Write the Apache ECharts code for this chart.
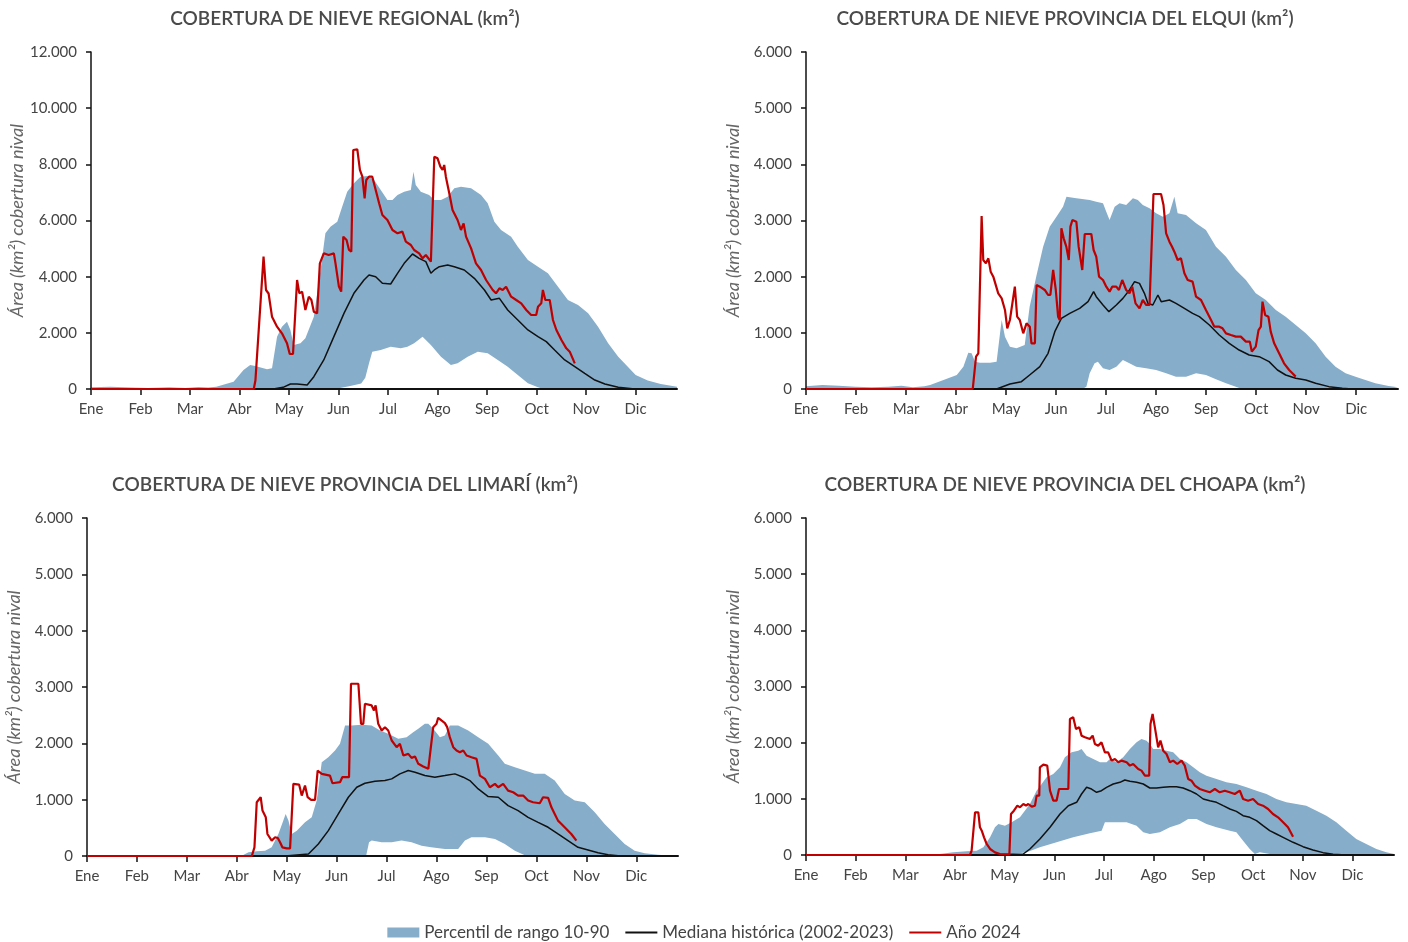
<!DOCTYPE html>
<html><head><meta charset="utf-8">
<script src="https://cdn.jsdelivr.net/npm/echarts@6/dist/echarts.min.js"></script>
<style>html,body{margin:0;padding:0;background:#fff}#c{width:1408px;height:942px}</style>
</head><body><div id="c"></div>
<script>
// ---------- tick labels ----------
const monthLabels = ['Ene','Feb','Mar','Abr','May','Jun','Jul','Ago','Sep','Oct','Nov','Dic'];
const titles = [
  'COBERTURA DE NIEVE REGIONAL (km²)',
  'COBERTURA DE NIEVE PROVINCIA DEL ELQUI (km²)',
  'COBERTURA DE NIEVE PROVINCIA DEL LIMARÍ (km²)',
  'COBERTURA DE NIEVE PROVINCIA DEL CHOAPA (km²)'
];
const yAxisName = 'Área (km²) cobertura nival';
const legendNames = ['Percentil de rango 10-90','Mediana histórica (2002-2023)','Año 2024'];

// ---------- data: [day of year, km²] ----------
const regionalP90 = [[0,60],[12,80],[25,50],[35,40],[48,60],[58,40],[66,70],[72,50],[77,83],[87.6,261],[93.7,677],[97.8,855],[100.9,819],[108.1,700],[111.2,736],[114.3,1864],[117.3,2220],[120.4,2398],[122.5,2101],[124.5,1567],[128.7,1626],[131.7,1804],[136.9,2576],[141,4238],[144,5543],[147.1,5781],[151.3,5959],[154.3,6493],[157.4,7027],[161.5,7324],[165.6,7561],[169.8,7585],[173.9,7443],[178,7086],[182.1,6730],[185.2,6730],[188.3,6908],[192.4,7027],[196.5,7086],[198.1,7739],[199.5,7264],[202.6,7027],[207.7,6908],[210.9,6730],[215,6730],[219.1,6849],[223.2,7146],[227.3,7205],[233.5,7146],[239.6,6908],[243.7,6612],[247.8,5959],[251.9,5662],[258.1,5425],[262.2,5069],[268.4,4594],[274.6,4356],[280.7,4119],[286.9,3644],[293,3169],[299.2,2991],[305.4,2694],[311.5,2220],[317.7,1626],[323.9,1151],[334.6,500],[342,300],[350,180],[360,80]];
const regionalP10 = [[0,0],[150,0],[160,120],[166,200],[168.5,400],[170.8,914],[172.8,1329],[178,1389],[184.1,1507],[190.3,1448],[194.4,1507],[198.5,1626],[203.7,1864],[208.8,1567],[215,1151],[221.1,855],[225.2,914],[231.4,1151],[237.6,1329],[243.7,1270],[249.9,1033],[256,795],[262.2,499],[268.4,202],[274.6,59],[278,0],[360,0]];
const regionalMedian = [[0,0],[112,0],[118,60],[122.5,178],[126.6,178],[132.8,142],[136.9,439],[143,1033],[149.2,1864],[155.4,2694],[161.5,3407],[167.7,3881],[170.8,4060],[174.9,4000],[179,3763],[184.1,3739],[188.3,4119],[192.4,4475],[197.5,4807],[201.6,4653],[205.7,4534],[208.8,4119],[210.9,4238],[214,4356],[219.1,4416],[223.2,4356],[229.3,4238],[235.5,3941],[241.7,3525],[245.8,3169],[250.9,3229],[256,2813],[262.2,2457],[268.4,2101],[274.6,1864],[279.7,1686],[284.8,1389],[291,1033],[297.2,795],[303.3,558],[309.5,320],[315.7,178],[323.9,59],[334,0],[360,0]];
const regional2024 = [[0,0],[100,0],[101,300],[106,4712],[107.5,3525],[109.1,3400],[111.2,2576],[114.3,2220],[117.3,1982],[120.4,1626],[122.1,1246],[124.1,1246],[126.6,3881],[128,3407],[129.7,3466],[131.7,2813],[133.8,3288],[135.4,3169],[136.9,2754],[138.9,2695],[140.6,4475],[143,4831],[146,4772],[149.2,4831],[150.2,4475],[152.3,3644],[153.7,3466],[155,5425],[157,5306],[158.5,4950],[159.9,4890],[161.1,8511],[163.6,8535],[165.2,7799],[166.7,7561],[168.1,6790],[169.1,7443],[170.8,7561],[172.8,7561],[174.9,7086],[177,6612],[179,6196],[182.1,6018],[185.2,5662],[188.3,5543],[191.3,5603],[193.4,5247],[196.5,5128],[198.5,4950],[201.6,4831],[203.7,4653],[205.7,4772],[208.8,4534],[209.8,4534],[210.9,8273],[212.9,8214],[214.6,7917],[216,7799],[217,7976],[218,7561],[220.1,6968],[222.1,6374],[225.2,6018],[227.3,5662],[228.9,5899],[230.4,5425],[233.5,5009],[236.5,4475],[239.6,4238],[242.7,3881],[246.8,3525],[248.8,3407],[250.9,3585],[252.9,3525],[255,3644],[258.1,3288],[261.2,3169],[264.3,3051],[267.4,2813],[270.4,2635],[273.5,2635],[274.6,2932],[276.6,3051],[277.6,3525],[279.1,3169],[281.8,3169],[283.8,2457],[285.9,2101],[289,1745],[292,1448],[294.1,1329],[297.2,914]];

const elquiP90 = [[0,50],[10,70],[20,60],[30,40],[40,30],[50,40],[58,60],[65,30],[72,50],[75.5,71],[83.6,160],[91.7,249],[95.7,398],[98.7,647],[100.7,635],[102.8,487],[105.8,469],[111.9,469],[115.9,487],[118,991],[119,1229],[121,932],[124,754],[128,724],[133,783],[136,1466],[140,2000],[144.2,2534],[148.2,2890],[152.3,3068],[156.3,3246],[158.4,3424],[164.4,3395],[172.5,3365],[176.5,3335],[180.6,3306],[182.6,3157],[184.6,3009],[187.7,3246],[190.7,3306],[194.7,3276],[198.8,3395],[201.8,3365],[204.8,3276],[208.9,3217],[212.9,3128],[217,3068],[221,3128],[224,3424],[226,3128],[231.1,3098],[237.2,2950],[243.2,2831],[249.3,2534],[255.4,2356],[261.4,2119],[267.5,1941],[273.5,1703],[279.6,1585],[285.7,1407],[291.7,1288],[297.8,1140],[303.9,991],[309.9,813],[316,576],[322,398],[328.1,279],[334.2,220],[340.2,160],[346.2,101],[354.3,53],[360,30]];
const elquiP10 = [[0,0],[168,0],[170.5,42],[172.5,279],[175.5,457],[177.5,487],[180.6,368],[184.6,338],[188.7,398],[192.7,516],[196.7,457],[200.8,398],[206.8,368],[212.9,338],[219,279],[225,220],[231.1,220],[237.2,279],[243.2,249],[249.3,172],[255.4,101],[261.4,42],[265,0],[360,0]];
const elquiMedian = [[0,0],[115.9,0],[124,89],[131,130],[136,249],[142.2,398],[147.2,635],[151.3,1021],[155.3,1258],[160.4,1347],[166.4,1436],[171.5,1555],[174.9,1733],[176.5,1644],[180.6,1496],[184.2,1377],[188.7,1496],[192.7,1614],[196.7,1763],[199.8,1911],[202.8,1881],[205.8,1703],[207.9,1525],[210.9,1496],[214,1674],[216,1555],[221,1585],[225,1525],[230.1,1436],[235.1,1347],[239.2,1288],[245.3,1140],[251.3,961],[257.4,813],[263.4,694],[269.5,605],[275.6,576],[281.6,487],[286.7,338],[291.7,249],[297.8,190],[303.9,160],[309.9,101],[318,42],[326.1,12],[332,0],[360,0]];
const elqui2024 = [[0,0],[101.4,0],[103.4,575],[104.8,635],[106.8,3080],[107.8,2297],[109.4,2237],[110.9,2326],[112.3,2089],[113.9,2000],[114.9,2030],[116.9,1703],[119,1614],[121,1407],[122.4,1080],[124,1229],[127,1822],[128.4,1288],[130,1229],[132.1,991],[134.1,1169],[136.1,1110],[137.1,813],[139.2,813],[140.2,1852],[142.2,1822],[145.2,1763],[147.2,1674],[148.6,1674],[150.3,2119],[151.9,1763],[153.3,1288],[154.3,1229],[155.3,2861],[156.7,2683],[158.3,2534],[159.8,2297],[160.8,2890],[162,3009],[164.4,2979],[165.8,2534],[168,2119],[169.5,2760],[173.5,2760],[174.9,2475],[176.5,2356],[178.2,2000],[180.6,1941],[182.6,1822],[184.6,1733],[186.2,1822],[188.7,1822],[190.3,1763],[192.3,1941],[194.7,1763],[196.7,1703],[198.4,1822],[200.4,1525],[202.8,1436],[204.8,1585],[206.8,1496],[208.9,1496],[211.3,3472],[215.9,3472],[217.4,3276],[219,2772],[221,2623],[222.6,2534],[224,2445],[226,2297],[228,2326],[230.1,2059],[232.1,1941],[235.1,1911],[237.2,1644],[240.2,1585],[243.2,1407],[246.3,1229],[248.3,1110],[251.3,1110],[253.3,1080],[255.4,991],[258.4,961],[261.4,932],[264.4,932],[267.5,843],[269.9,843],[271.1,665],[273.5,754],[275.2,1050],[276.6,1110],[277.6,1555],[279.2,1318],[281.2,1288],[282.6,1021],[284.7,813],[287.7,635],[290.7,457],[293.8,338],[295.8,279],[297.8,220]];

const limariP90 = [[0,0],[90,0],[94.3,6],[98.4,65],[103.4,83],[108.5,95],[112.5,154],[116.6,391],[119.6,628],[121,747],[122.7,628],[124.7,391],[127.8,450],[132.8,598],[136.9,687],[139.9,984],[143,1665],[147,1754],[151.1,1873],[154.1,1991],[157.2,2317],[161.2,2317],[167.3,2329],[173.4,2317],[178.5,2228],[183.5,2169],[189.6,2080],[194.7,2110],[198.7,2198],[201.8,2258],[205.8,2347],[207.9,2347],[210.9,2258],[215,2110],[218,2139],[221,2317],[226.1,2317],[232.2,2228],[238.3,2110],[244.4,1991],[250.5,1784],[254.5,1636],[260.6,1576],[266.7,1517],[272.8,1458],[278.8,1458],[284.9,1339],[291,1102],[297.1,984],[303.2,954],[309.3,776],[315.3,569],[321.4,391],[327.5,213],[333.6,95],[339.7,47],[347.8,24],[355.9,6],[360,0]];
const limariP10 = [[0,0],[170,0],[171.8,243],[173.4,273],[179.5,243],[185.6,243],[191.6,273],[197.7,243],[203.8,184],[209.6,154],[218,124],[226.1,124],[230.2,273],[234.2,332],[242.4,332],[248.5,302],[254.5,213],[260.6,95],[266.7,12],[268,0],[360,0]];
const limariMedian = [[0,0],[120.7,0],[134.9,36],[140.9,213],[147,450],[153.1,747],[159.2,1043],[164.3,1221],[169.3,1292],[175.4,1327],[181.5,1339],[185.6,1369],[190.6,1458],[195.7,1517],[199.8,1487],[205.8,1428],[211.9,1399],[218,1428],[224.1,1458],[229.2,1399],[233.2,1339],[238.3,1191],[244.4,1055],[250.5,1043],[256.5,895],[262.6,806],[268.7,687],[274.8,598],[280.9,510],[286.9,391],[293,273],[299.1,154],[305.2,107],[311.3,59],[317.4,24],[323.5,6],[330,0],[360,0]];
const limari2024 = [[0,0],[100.4,0],[102,154],[103.4,954],[104.4,984],[105.8,1043],[106.9,806],[108.1,836],[108.9,687],[109.9,391],[110.9,421],[112.5,273],[114.6,332],[116.2,320],[117.6,243],[119,154],[121.7,136],[123.7,136],[125.7,1280],[129.2,1268],[130.8,1073],[132.8,1250],[134.4,1043],[136.5,996],[138.9,996],[140.5,1517],[143,1458],[148,1428],[149.5,1292],[154.1,1310],[155.5,1399],[159.6,1399],[160.8,3058],[165.3,3058],[166.9,2347],[168.3,2347],[169.3,2702],[173.4,2673],[174.8,2584],[175.8,2673],[177.4,2347],[179.5,2228],[181.5,2287],[183.5,2228],[185.6,2050],[188.6,1932],[190.6,1991],[192.7,1784],[195.7,1813],[197.7,1742],[199.8,1766],[201.8,1636],[204.8,1588],[207.9,1547],[209,1547],[210.9,2287],[212.9,2347],[213.9,2453],[215.9,2406],[218,2358],[219.4,2287],[221,2110],[223.1,1932],[225.1,1873],[227.1,1843],[229.2,1873],[231.2,1784],[234.2,1754],[237.3,1724],[239.3,1428],[242.4,1369],[245.4,1221],[248.5,1280],[250.5,1221],[253.5,1280],[256.5,1161],[259.6,1132],[262.6,1073],[265.7,1073],[268.7,984],[271.7,954],[275.8,936],[277.8,1043],[280.9,1031],[282.9,865],[284.9,747],[286.9,628],[289,569],[292,480],[295,391],[298.1,273]];

const choapaP90 = [[0,0],[60,0],[70,10],[82,18],[90.2,47],[98.4,65],[104.5,77],[108.6,137],[112.7,315],[115.7,493],[117.8,552],[121.8,522],[125.9,582],[131,671],[137.1,908],[141.2,1145],[147.3,1383],[151.4,1442],[155.5,1561],[158.5,1739],[162.6,1828],[166.7,1858],[168.7,1887],[171.8,1769],[175.9,1709],[180,1650],[184,1650],[186.1,1709],[190.2,1650],[194.2,1739],[198.3,1887],[202.4,2006],[205.4,2065],[208.5,2036],[210.5,1976],[212.6,1887],[216.7,1887],[220.7,1858],[224.8,1828],[228.9,1709],[233,1650],[237.1,1561],[241.1,1472],[245.2,1412],[251.3,1353],[257.4,1294],[263.5,1264],[269.7,1205],[275.8,1145],[281.9,1086],[288,997],[294.1,938],[300.2,908],[306.3,878],[312.5,789],[318.6,700],[324.7,582],[330.8,433],[336.9,285],[343,196],[349.2,107],[355.3,47],[360,18]];
const choapaP10 = [[0,0],[120,0],[122.9,6],[135.1,47],[143.2,137],[153.4,226],[163.6,315],[173.8,386],[181,433],[183,582],[184,611],[190.2,582],[196.3,582],[202.4,522],[206.5,404],[210.5,374],[216.7,404],[222.8,493],[228.9,552],[234,641],[239.1,641],[245.2,552],[251.3,493],[259.5,433],[263.5,404],[267.6,255],[271.7,107],[274.8,18],[277.8,47],[284,18],[288,0],[360,0]];
const choapaMedian = [[0,0],[114.7,6],[133,18],[137.1,107],[143.2,285],[149.4,493],[155.5,730],[160.6,878],[165.7,938],[168.7,1086],[171.8,1205],[174.8,1175],[177.9,1116],[180.9,1145],[184,1205],[188.1,1264],[192.2,1294],[195.2,1335],[198.3,1312],[202.4,1294],[206.5,1264],[210.5,1193],[214.6,1193],[218.7,1205],[222.8,1217],[226.8,1217],[230.9,1193],[235,1145],[239.1,1086],[243.2,997],[247.2,967],[251.3,938],[255.4,878],[259.5,819],[263.5,777],[267.6,700],[271.7,671],[275.8,611],[279.8,522],[283.9,433],[288,374],[292.1,315],[298.2,226],[304.3,148],[310.4,89],[316.6,42],[322.7,12],[330.8,0],[360,0]];
const choapa2024 = [[0,0],[100.4,0],[101.4,77],[103.5,760],[105.5,760],[106.5,493],[107.6,433],[109,315],[110.6,196],[112.7,107],[115.7,47],[118.8,18],[124.5,6],[125.5,730],[127.3,789],[129.4,878],[131,849],[133.1,908],[134.7,878],[136.1,908],[138.2,861],[140.2,878],[141.2,1056],[142.8,1056],[143.2,1561],[145.3,1608],[147.7,1591],[149.4,1145],[151.4,967],[153.4,967],[154.9,1175],[157.5,1175],[160.6,1175],[161.6,2421],[163.6,2451],[165.3,2243],[167.3,2273],[168.7,2125],[170.8,2095],[173.8,2065],[175.5,2125],[176.9,1976],[178.9,1947],[180.9,2006],[183,1828],[185,1828],[187.1,1680],[189.1,1709],[191.2,1650],[193.2,1680],[196.3,1650],[198.3,1591],[200.3,1620],[203.4,1531],[205.4,1502],[207.5,1412],[210.1,1412],[210.9,2332],[212.2,2510],[213.6,2273],[215.6,1917],[217,2036],[218.7,1858],[220.7,1798],[222.8,1650],[224.8,1680],[227.3,1620],[229.9,1680],[231.9,1591],[234,1353],[236,1323],[238.1,1234],[241.1,1175],[244.2,1145],[247.2,1116],[250.3,1175],[253.3,1116],[256.4,1145],[259.4,1116],[262.5,1086],[265.6,1145],[267.6,997],[270.7,967],[273.7,997],[276.8,908],[279.8,878],[282.9,819],[285.9,730],[289,671],[292.1,582],[295.1,493],[298.2,326]];

const yMaxes = [12000, 6000, 6000, 6000];
const yIntervals = [2000, 1000, 1000, 1000];

// ---------- layout / style ----------
const FONT = 'Lato, "Noto Sans", sans-serif';
const BAND = '#86adca';
const RED = '#c00000';
const AXIS = '#111';
const DAYS_PER_MONTH = 365 / 12;
const monthStarts = monthLabels.map((_, i) => i * DAYS_PER_MONTH);
const grids = [
  {left: 91, top: 52, width: 586, height: 337},
  {left: 806, top: 52, width: 592, height: 337},
  {left: 87, top: 518, width: 591, height: 338},
  {left: 806, top: 518, width: 588, height: 337}
];
const titlePos = [[345, 19], [1065, 19], [345, 485], [1065, 485]];
const panelData = [
  [regionalP90, regionalP10, regionalMedian, regional2024],
  [elquiP90, elquiP10, elquiMedian, elqui2024],
  [limariP90, limariP10, limariMedian, limari2024],
  [choapaP90, choapaP10, choapaMedian, choapa2024]
];
const fmtThousands = v => String(v).replace(/\B(?=(\d{3})+(?!\d))/g, '.');

const xAxes = [], yAxes = [], series = [];
panelData.forEach((d, i) => {
  xAxes.push({
    gridIndex: i, type: 'value', min: 0, max: 360, z: 3,
    axisLine: {show: true, lineStyle: {color: AXIS, width: 2}},
    axisTick: {show: true, customValues: monthStarts, length: 6, inside: false, lineStyle: {color: AXIS, width: 1.5}},
    axisLabel: {show: true, customValues: monthStarts, margin: 13, color: '#444', fontSize: 15, fontFamily: FONT,
      formatter: v => monthLabels[Math.round(v / DAYS_PER_MONTH)] || ''},
    splitLine: {show: false}
  });
  yAxes.push({
    gridIndex: i, type: 'value', min: 0, max: yMaxes[i], interval: yIntervals[i], z: 3,
    axisLine: {show: true, lineStyle: {color: AXIS, width: 1.5}},
    axisTick: {show: true, length: 5, lineStyle: {color: AXIS, width: 1.5}},
    axisLabel: {margin: 14, color: '#444', fontSize: 15, fontFamily: FONT, formatter: fmtThousands},
    splitLine: {show: false},
    name: yAxisName, nameLocation: 'middle', nameGap: 64,
    nameTextStyle: {fontStyle: 'italic', fontSize: 18, color: '#666', fontFamily: FONT}
  });
  const common = {type: 'line', xAxisIndex: i, yAxisIndex: i, symbol: 'none', showSymbol: false, silent: true, animation: false};
  series.push(Object.assign({}, common, {name: legendNames[0], data: d[0], z: 1, color: BAND,
    lineStyle: {width: 0, color: BAND}, areaStyle: {color: BAND, opacity: 1}}));
  series.push(Object.assign({}, common, {name: 'p10', data: d[1], z: 2, color: '#fff',
    lineStyle: {width: 0, color: '#fff'}, areaStyle: {color: '#fff', opacity: 1}}));
  series.push(Object.assign({}, common, {name: legendNames[1], data: d[2], z: 4, color: '#111',
    lineStyle: {width: 1.5, color: '#111'}}));
  series.push(Object.assign({}, common, {name: legendNames[2], data: d[3], z: 5, color: RED,
    lineStyle: {width: 2.2, color: RED}}));
});

const graphics = titles.map((t, i) => ({
  type: 'text', x: titlePos[i][0], y: titlePos[i][1], silent: true,
  style: {text: t, fill: '#4a4a4a', font: '600 19px ' + FONT, textAlign: 'center', textVerticalAlign: 'middle'}
}));

const LINE_ICON = 'path://M0,0 L32,0 L32,2 L0,2 Z';
const chart = echarts.init(document.getElementById('c'), null, {renderer: 'canvas'});
chart.setOption({
  animation: false,
  backgroundColor: '#fff',
  grid: grids.map(g => Object.assign({containLabel: false}, g)),
  xAxis: xAxes,
  yAxis: yAxes,
  series: series,
  graphic: graphics,
  legend: {
    top: 919, left: 'center', itemWidth: 32, itemHeight: 10, itemGap: 16,
    textStyle: {fontSize: 17, color: '#444', fontFamily: FONT},
    data: [
      {name: legendNames[0], icon: 'rect'},
      {name: legendNames[1], icon: LINE_ICON, itemStyle: {color: '#111'}},
      {name: legendNames[2], icon: LINE_ICON, itemStyle: {color: RED}}
    ],
    selectedMode: false
  }
});
</script></body></html>
